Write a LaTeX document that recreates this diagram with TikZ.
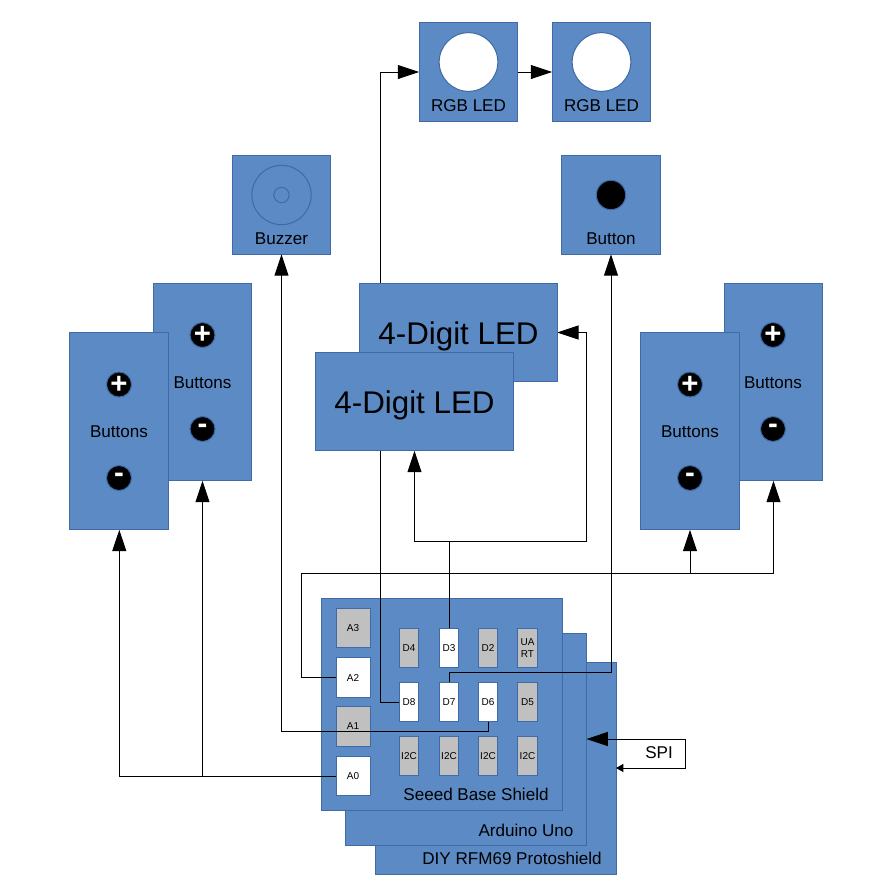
\documentclass[tikz,border=0pt]{standalone}
\usepackage{fontspec}
\setmainfont{Liberation Sans}
\usetikzlibrary{arrows.meta,calc}
\pgfdeclarelayer{top}
\pgfsetlayers{main,top}
\definecolor{boxfill}{HTML}{5B8AC4}
\definecolor{boxline}{HTML}{3F6AA6}
\definecolor{pingray}{HTML}{C0C0C0}
\tikzset{
  x=0.75pt,y=-0.75pt,
  unit/.style={draw=boxline,fill=boxfill,line width=0.75pt,inner sep=0pt,outer sep=0pt,minimum width=#1},
  sq/.style={unit=74pt,minimum height=74pt},
  tall/.style={unit=74pt,minimum height=148.25pt},
  ledbox/.style={unit=148pt,minimum height=74pt,font=\fontsize{23.5}{26}\selectfont,text depth=1pt,text height=19pt},
  shield/.style={unit=180.75pt,minimum height=159pt},
  pinW/.style={draw=boxline,fill=white,line width=0.75pt,inner sep=0pt,outer sep=0pt,font=\fontsize{7.5}{8.6}\selectfont,align=center},
  pinG/.style={pinW,fill=pingray},
  bigpin/.style={minimum width=25.5pt,minimum height=29.5pt},
  smallpin/.style={minimum width=14.75pt,minimum height=29.5pt},
  lab/.style={inner sep=0pt,font=\fontsize{12.8}{14}\selectfont},
  dot/.style={circle,draw=boxline,fill=black,line width=0.75pt,inner sep=0pt,outer sep=0pt,minimum size=18.75pt,text=white,font=\fontsize{22}{22}\bfseries\selectfont},
  ledcirc/.style={circle,draw=boxline,fill=white,line width=0.75pt,inner sep=0pt,minimum size=44pt},
  ring/.style={circle,draw=boxline,line width=0.75pt,inner sep=0pt},
  conn/.style={draw=black,line width=0.75pt},
  arr/.style={conn,-{Triangle[length=16pt,width=10.5pt]}},
  arrsmall/.style={conn,-{Triangle[length=5.5pt,width=6pt]}},
}
\begin{document}
\begin{tikzpicture}
\useasboundingbox (0,0) rectangle (890,890);
% shields
\node[shield] (diy) at (495.5,768) {};
\node[shield] (uno) at (466,739) {};
\node[shield] (seeed) at (441.5,704) {};
\node[lab] (tdiy) at (512,858.5) {DIY RFM69 Protoshield};
\node[lab] (tuno) at (526,830) {Arduino Uno};
\node[lab] (tseeed) at (476,794.5) {Seeed Base Shield};
% pins
\node[pinG,bigpin] (A3) at (353,628) {A3};
\node[pinW,bigpin] (A2) at (353,677.5) {A2};
\node[pinG,bigpin] (A1) at (353,726.5) {A1};
\node[pinW,bigpin] (A0) at (353,776) {A0};
\node[pinG,smallpin] (D4) at (409,648) {D4};
\node[pinW,smallpin] (D3) at (449,648) {D3};
\node[pinG,smallpin] (D2) at (488,648) {D2};
\node[pinG,smallpin] (UART) at (527.5,648) {UA\\RT};
\node[pinW,smallpin] (D8) at (409,702) {D8};
\node[pinW,smallpin] (D7) at (449,702) {D7};
\node[pinW,smallpin] (D6) at (488,702) {D6};
\node[pinG,smallpin] (D5) at (527.5,702) {D5};
\node[pinG,smallpin] (I1) at (409,756) {I2C};
\node[pinG,smallpin] (I2) at (449,756) {I2C};
\node[pinG,smallpin] (I3) at (488,756) {I2C};
\node[pinG,smallpin] (I4) at (527.5,756) {I2C};
% upper boxes
\node[sq] (rgbA) at (468.5,72) {};
\node[sq] (rgbB) at (601.5,72) {};
\node[ledcirc] (cA) at (468.5,62) {};
\node[ledcirc] (cB) at (601.5,62) {};
\node[lab] (tA) at (468.5,105.5) {RGB LED};
\node[lab] (tB) at (601.5,105.5) {RGB LED};
\node[sq] (buzz) at (281.5,205) {};
\node[ring,minimum size=44.5pt] (ringO) at (281.5,195) {};
\node[ring,minimum size=11.5pt] (ringI) at (281.5,195) {};
\node[lab] (tbuzz) at (281.5,238.5) {Buzzer};
\node[sq] (button) at (611,205) {};
\node[dot,minimum size=22pt] (bdot) at (611,195) {};
\node[lab] (tbutton) at (611,238.5) {Button};
% button blocks
\node[tall] (bLB) at (202.5,382) {};
\node[dot] (pLB) at (202.5,335) {+};
\node[dot] (mLB) at (202.5,429) {-};
\node[lab] (tLB) at (202.5,382.5) {Buttons};
\node[tall] (bLF) at (119.3,431) {};
\node[dot] (pLF) at (119,384.5) {+};
\node[dot] (mLF) at (119,478) {-};
\node[lab] (tLF) at (119,431.5) {Buttons};
\node[tall] (bRB) at (773.5,382) {};
\node[dot] (pRB) at (773,335) {+};
\node[dot] (mRB) at (773,429) {-};
\node[lab] (tRB) at (773,382.5) {Buttons};
\node[tall] (bRF) at (690,431) {};
\node[dot] (pRF) at (690,384.5) {+};
\node[dot] (mRF) at (690,478) {-};
\node[lab] (tRF) at (690,431.5) {Buttons};
% LED displays sit above the connector that runs behind them
\begin{pgfonlayer}{top}
\node[ledbox] (ledB) at (458.5,332.5) {4-Digit LED};
\node[ledbox] (ledF) at (414.5,401.5) {4-Digit LED};
\end{pgfonlayer}
% free connector points
\coordinate (bus) at (301,573.5);
\coordinate (split) at (449,541);
\coordinate (spiA) at (685,739);
\coordinate (spiB) at (685,768);
\node[lab] (tspi) at (659,753) {SPI};
% connectors
\draw[arr] (A0.west) -| (bLF.south);
\draw[arr] (A0.west -| bLB.south) -- (bLB.south);
\draw[conn] (A2.west) -| (bus);
\draw[arr] (bus) -| (bRB.south);
\draw[arr] (bus -| bRF.south) -- (bRF.south);
\draw[arr] (D6.south) -- ++(0,9.5) -| (buzz.south);
\draw[arr] (D8.west) -- ++(-19,0) |- (rgbA.west);
\draw[arr] (rgbA.east) -- (rgbB.west);
\draw[conn] (D3.north) -- (split);
\draw[arr] (split) -| (ledF.south);
\draw[arr] (split) -- ++(137,0) |- (ledB.east);
\draw[arr] (D7.north) -- ++(0,-10) -| (button.south);
\draw[arr] (spiA) -- (spiA -| uno.east);
\draw[arrsmall] (spiA) -- (spiB) -- (spiB -| diy.east);
\end{tikzpicture}
\end{document}
